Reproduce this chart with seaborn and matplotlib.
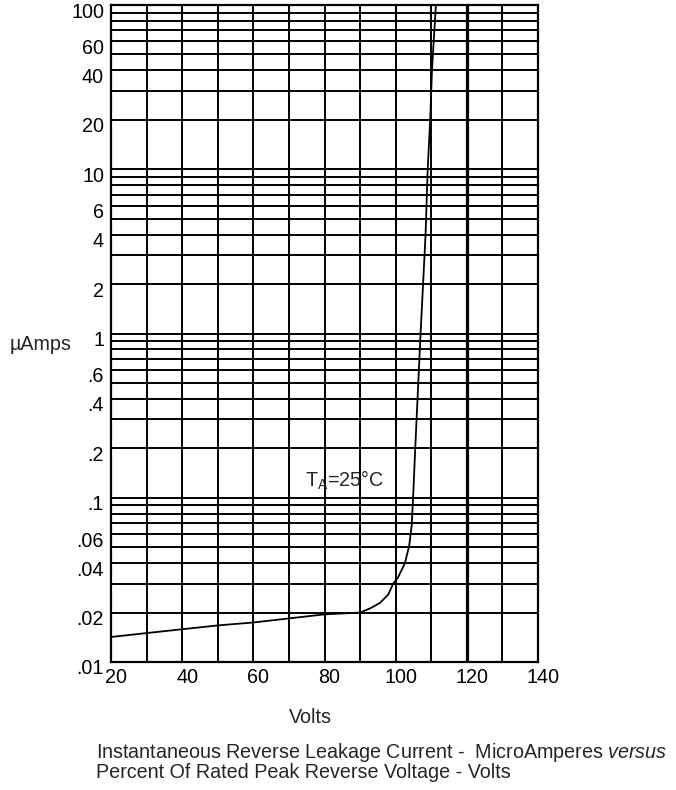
import matplotlib
matplotlib.use('Agg')
import matplotlib.pyplot as plt
import matplotlib.transforms as mtransforms
from matplotlib.ticker import LogLocator, MultipleLocator, NullFormatter
import numpy as np
import seaborn as sns

# 곡선 데이터
volts = [20, 30, 50, 60, 80, 90, 92.8, 95.6, 97.9, 99.3, 100.7,
         102.6, 103.8, 104.5, 104.9, 105.5, 107.0, 108.4, 109.0, 109.7,
         110.2, 111.3]
micro_amps = [0.0142, 0.015, 0.0167, 0.0174, 0.0195, 0.02, 0.0212, 0.0229,
              0.0257, 0.03, 0.0328, 0.04, 0.051, 0.068, 0.1, 0.2,
              1, 4, 10, 20, 40, 100]

x_ticks = [20, 40, 60, 80, 100, 120, 140]
y_ticks = [0.01, 0.02, 0.04, 0.06, 0.1, 0.2, 0.4, 0.6, 1, 2, 4, 6,
           10, 20, 40, 60, 100]
y_tick_labels = ['.01', '.02', '.04', '.06', '.1', '.2', '.4', '.6', '1',
                 '2', '4', '6', '10', '20', '40', '60', '100']

sns.set_style('white')
plt.rcParams['font.family'] = ['Liberation Sans', 'DejaVu Sans']
plt.rcParams['mathtext.fontset'] = 'custom'
plt.rcParams['mathtext.rm'] = 'Liberation Sans'
plt.rcParams['mathtext.it'] = 'Liberation Sans:italic'

FS = 14.2

fig = plt.figure(figsize=(6.76, 7.90), dpi=100)
ax = fig.add_axes([111 / 676, 128 / 790, 427 / 676, 657 / 790])

sns.lineplot(x=volts, y=micro_amps, color='black', linewidth=1.3, ax=ax)

ax.set_yscale('log')
ax.set_xlim(20, 140)
ax.set_ylim(0.01, 100)

ax.set_xticks(x_ticks)
ax.xaxis.set_minor_locator(MultipleLocator(10))
ax.set_yticks(y_ticks, y_tick_labels)
ax.yaxis.set_minor_locator(LogLocator(base=10, subs=np.arange(1, 10), numticks=50))
ax.yaxis.set_minor_formatter(NullFormatter())

# 격자선 (모눈종이 느낌)
ax.grid(True, which='both', color='black', linewidth=1.4)
ax.axvline(120, color='black', linewidth=2.3)
ax.set_axisbelow(True)
for sp in ax.spines.values():
    sp.set_color('black')
    sp.set_linewidth(1.6)

ax.tick_params(which='both', length=0, labelsize=FS, colors='black')
ax.tick_params(axis='y', pad=5)
ax.tick_params(axis='x', pad=4)

# 눈금 글자 살짝 이동
dy = mtransforms.ScaledTranslation(0, -5 / 100, fig.dpi_scale_trans)
dx = mtransforms.ScaledTranslation(5 / 100, 0, fig.dpi_scale_trans)
for lab in ax.get_yticklabels():
    lab.set_transform(lab.get_transform() + dy)
for lab in ax.get_xticklabels():
    lab.set_transform(lab.get_transform() + dx)

ax.set_ylabel('\u00b5Amps', rotation=0, fontsize=FS, ha='center', va='center')
ax.yaxis.set_label_coords(-0.164, 0.484)
ax.set_xlabel('Volts', fontsize=FS, ha='center', va='center')
ax.xaxis.set_label_coords(0.466, -0.085)

ax.text(74.5, 0.127, '$\\mathregular{T_A}$=25\u00b0C',
        fontsize=FS, ha='left', va='center')

fig.text(96 / 676, 1 - 752 / 790,
         r'Instantaneous Reverse Leakage Current -  MicroAmperes $\mathit{versus}$',
         fontsize=FS, ha='left', va='center')
fig.text(96 / 676, 1 - 772 / 790,
         'Percent Of Rated Peak Reverse Voltage - Volts',
         fontsize=FS, ha='left', va='center')

fig.savefig('out.png', dpi=100)
